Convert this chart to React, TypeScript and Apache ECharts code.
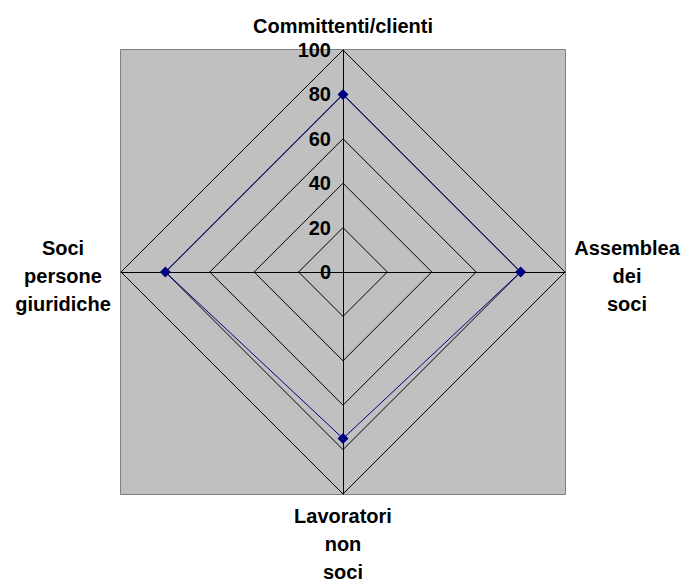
import React, { useEffect, useRef } from "react";
import * as echarts from "echarts";

// Indicators in ECharts order (counter-clockwise from the top)
const indicatorNames = [
  "Committenti/clienti",
  "Soci\npersone\ngiuridiche",
  "Lavoratori\nnon\nsoci",
  "Assemblea\ndei\nsoci",
];
const seriesValues = [80, 80, 75, 80];
const axisMin = 0;
const axisMax = 100;
const axisStep = 20;

const FONT = "'Liberation Sans', Arial, Helvetica, sans-serif";

export default function App() {
  const ref = useRef<HTMLDivElement>(null);

  useEffect(() => {
    if (!ref.current) return;
    const chart = echarts.init(ref.current, null, { renderer: "svg" });
    const richBase = {
      fontSize: 20,
      fontWeight: "bold" as const,
      fontFamily: FONT,
      color: "#000",
      lineHeight: 28,
      align: "center" as const,
    };
    chart.setOption({
      animation: false,
      backgroundColor: "#ffffff",
      graphic: [
        {
          type: "rect",
          z: -10,
          shape: { x: 120.5, y: 49.5, width: 445, height: 445 },
          style: { fill: "#c0c0c0", stroke: "#808080", lineWidth: 1 },
          silent: true,
        },
      ],
      grid: { left: 343, top: 50, width: 1, height: 222 },
      xAxis: { type: "value", show: false },
      yAxis: {
        type: "value",
        min: axisMin,
        max: axisMax,
        interval: axisStep,
        axisLine: { show: false },
        axisTick: { show: false },
        splitLine: { show: false },
        axisLabel: {
          margin: 12,
          fontSize: 20,
          fontWeight: "bold",
          fontFamily: FONT,
          color: "#000",
        },
      },
      radar: {
        center: [343, 272],
        radius: 222,
        startAngle: 90,
        shape: "polygon",
        splitNumber: 5,
        nameGap: 8,
        indicator: indicatorNames.map((n) => ({ name: n, min: axisMin, max: axisMax })),
        axisName: {
          color: "#000",
          fontSize: 20,
          fontWeight: "bold",
          fontFamily: FONT,
          lineHeight: 28,
          formatter: (name: string) => {
            const key = name.startsWith("Soci") ? "l" : name.startsWith("Assemblea") ? "r" : "c";
            const body = name
              .split("\n")
              .map((l) => `{${key}|${l}}`)
              .join("\n");
            if (key === "l" || key === "r") return `{s| }\n${body}`;
            if (name.startsWith("Committenti")) return `${body}\n{t| }`;
            return body;
          },
          rich: {
            l: { ...richBase, width: 100 },
            r: { ...richBase, width: 108 },
            c: { ...richBase },
            s: { fontSize: 6, lineHeight: 7 },
            t: { fontSize: 2, lineHeight: 2 },
          },
        },
        axisLine: { lineStyle: { color: "#000", width: 1 } },
        splitLine: { lineStyle: { color: "#000", width: 1 } },
        splitArea: { show: false },
        axisTick: { show: false },
        axisLabel: { show: false },
      },
      series: [
        {
          type: "radar",
          symbol: "diamond",
          symbolSize: 11,
          lineStyle: { color: "#000080", width: 1 },
          itemStyle: { color: "#000080" },
          data: [{ value: seriesValues }],
        },
      ],
    });
    return () => chart.dispose();
  }, []);

  return (
    <div
      ref={ref}
      style={{ position: "fixed", left: 0, top: 0, width: 683, height: 579 }}
    />
  );
}
